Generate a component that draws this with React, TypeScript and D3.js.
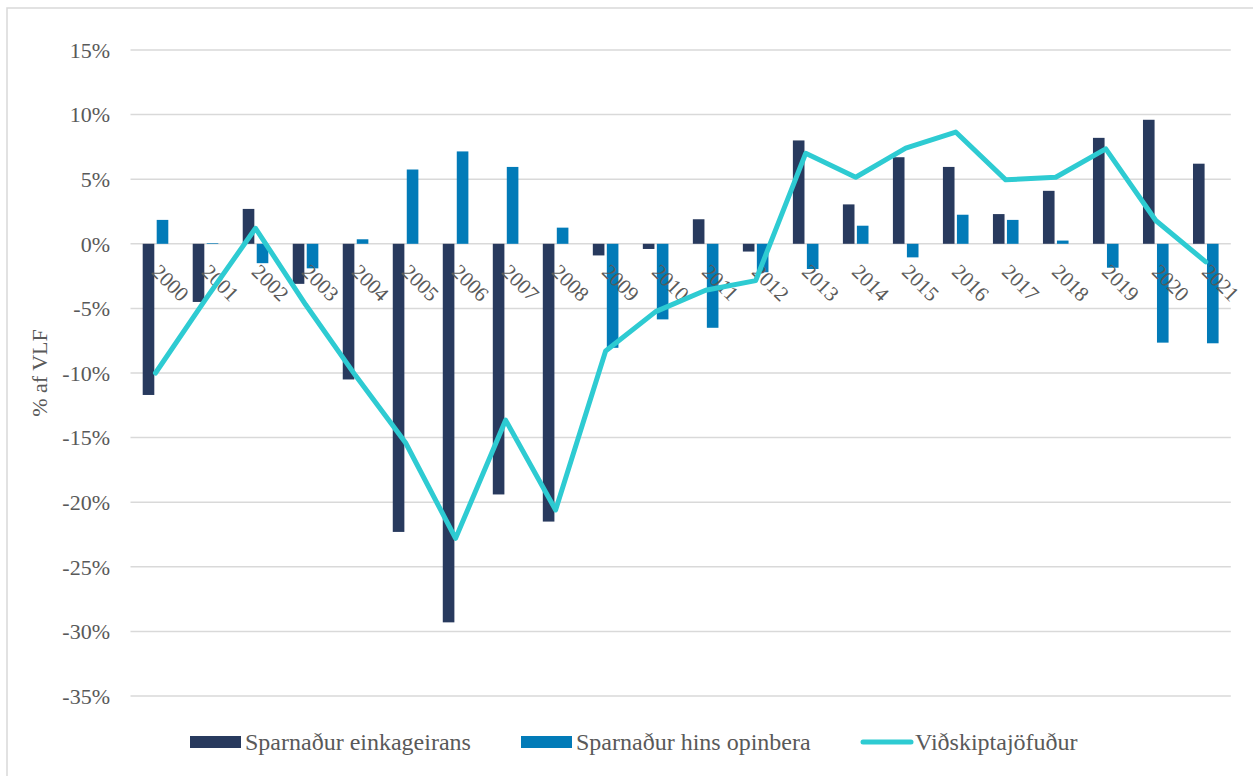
import { useEffect, useRef } from 'react'
import * as d3 from 'd3'

const years = [
  '2000', '2001', '2002', '2003', '2004', '2005', '2006', '2007', '2008', '2009', '2010',
  '2011', '2012', '2013', '2014', '2015', '2016', '2017', '2018', '2019', '2020', '2021',
]

// Sparnaður einkageirans (% af VLF)
const privateSaving = [
  -11.7, -4.5, 2.7, -3.1, -10.5, -22.3, -29.3, -19.4, -21.5, -0.9, -0.4,
  1.9, -0.6, 8.0, 3.05, 6.7, 5.95, 2.3, 4.1, 8.2, 9.6, 6.2,
]

// Sparnaður hins opinbera
const publicSaving = [
  1.85, 0.05, -1.5, -1.9, 0.35, 5.75, 7.15, 5.95, 1.25, -8.05, -5.85,
  -6.5, -2.2, -1.95, 1.4, -1.05, 2.25, 1.85, 0.25, -1.85, -7.65, -7.7,
]

// Viðskiptajöfnuður
const currentAccount = [
  -10.0, -4.3, 1.2, -4.7, -10.2, -15.4, -22.8, -13.65, -20.6, -8.3, -5.25,
  -3.6, -2.85, 7.0, 5.15, 7.4, 8.65, 4.95, 5.15, 7.35, 1.8, -1.4,
]

const yTicks = [15, 10, 5, 0, -5, -10, -15, -20, -25, -30, -35]

const seriesNames = ['Sparnaður einkageirans', 'Sparnaður hins opinbera', 'Viðskiptajöfuður']

const W = 1253
const H = 776
const DARK = '#283a5e'
const BLUE = '#027bb8'
const TEAL = '#2ecbd2'
const GRID = '#d9d9d9'
const TEXT = '#595959'
const FONT = '"Liberation Serif", "DejaVu Serif", serif'

export default function App() {
  const svgRef = useRef<SVGSVGElement | null>(null)

  useEffect(() => {
    const svgEl = svgRef.current
    if (!svgEl) return
    const svg = d3.select(svgEl)
    svg.selectAll('*').remove()

    const left = 130.5
    const right = 1230.8

    const x = d3.scaleBand<string>().domain(years).range([left, right]).padding(0)
    const inner = d3
      .scaleBand<string>()
      .domain(['priv', 'pub'])
      .range([12.2, 37.8])
      .paddingInner(0.171)
      .paddingOuter(0)
    const y = d3.scaleLinear().domain([-35, 15]).range([696, 50])

    // chart frame
    svg
      .append('rect')
      .attr('x', 7)
      .attr('y', 8)
      .attr('width', W + 20)
      .attr('height', H + 20)
      .attr('fill', '#fff')
      .attr('stroke', GRID)
      .attr('stroke-width', 1.5)

    // gridlines
    svg
      .append('g')
      .selectAll('line')
      .data(yTicks)
      .enter()
      .append('line')
      .attr('x1', left)
      .attr('x2', right)
      .attr('y1', (d) => y(d))
      .attr('y2', (d) => y(d))
      .attr('stroke', GRID)
      .attr('stroke-width', 1.5)

    // y tick labels
    svg
      .append('g')
      .selectAll('text')
      .data(yTicks)
      .enter()
      .append('text')
      .attr('x', 110)
      .attr('y', (d) => y(d))
      .attr('dy', '0.35em')
      .attr('text-anchor', 'end')
      .attr('font-family', FONT)
      .attr('font-size', 22)
      .attr('fill', TEXT)
      .text((d) => `${d}%`)

    // y axis title
    svg
      .append('text')
      .attr('transform', `translate(47, ${(y(15) + y(-35)) / 2}) rotate(-90)`)
      .attr('text-anchor', 'middle')
      .attr('font-family', FONT)
      .attr('font-size', 22)
      .attr('fill', TEXT)
      .text('% af VLF')

    // bars
    const bars = svg.append('g')
    bars
      .selectAll('rect.priv')
      .data(years)
      .enter()
      .append('rect')
      .attr('class', 'priv')
      .attr('x', (d) => (x(d) ?? 0) + (inner('priv') ?? 0))
      .attr('width', inner.bandwidth())
      .attr('y', (_, i) => y(Math.max(0, privateSaving[i])))
      .attr('height', (_, i) => Math.abs(y(privateSaving[i]) - y(0)))
      .attr('fill', DARK)
    bars
      .selectAll('rect.pub')
      .data(years)
      .enter()
      .append('rect')
      .attr('class', 'pub')
      .attr('x', (d) => (x(d) ?? 0) + (inner('pub') ?? 0))
      .attr('width', inner.bandwidth())
      .attr('y', (_, i) => y(Math.max(0, publicSaving[i])))
      .attr('height', (_, i) => Math.abs(y(publicSaving[i]) - y(0)))
      .attr('fill', BLUE)

    // x labels, rotated
    svg
      .append('g')
      .selectAll('text')
      .data(years)
      .enter()
      .append('text')
      .attr('transform', (d) => `translate(${(x(d) ?? 0) + x.bandwidth() / 2 - 5}, 273) rotate(45)`)
      .attr('font-family', FONT)
      .attr('font-size', 21)
      .attr('fill', TEXT)
      .text((d) => d)

    // line
    const line = d3
      .line<number>()
      .x((_, i) => (x(years[i]) ?? 0) + x.bandwidth() / 2)
      .y((d) => y(d))
    svg
      .append('path')
      .attr('d', line(currentAccount) ?? '')
      .attr('fill', 'none')
      .attr('stroke', TEAL)
      .attr('stroke-width', 5)
      .attr('stroke-linejoin', 'round')
      .attr('stroke-linecap', 'round')

    // legend
    const ly = 742
    const legend = svg.append('g')
    const items = [
      { name: seriesNames[0], x: 190, kind: 'bar', color: DARK },
      { name: seriesNames[1], x: 521, kind: 'bar', color: BLUE },
      { name: seriesNames[2], x: 860, kind: 'line', color: TEAL },
    ]
    items.forEach((it) => {
      if (it.kind === 'bar') {
        legend
          .append('rect')
          .attr('x', it.x)
          .attr('y', ly - 6)
          .attr('width', 51)
          .attr('height', 12)
          .attr('fill', it.color)
      } else {
        legend
          .append('line')
          .attr('x1', it.x + 3)
          .attr('x2', it.x + 51)
          .attr('y1', ly)
          .attr('y2', ly)
          .attr('stroke', it.color)
          .attr('stroke-width', 5)
          .attr('stroke-linecap', 'round')
      }
      legend
        .append('text')
        .attr('x', it.x + 55)
        .attr('y', ly)
        .attr('dy', '0.35em')
        .attr('font-family', FONT)
        .attr('font-size', 24)
        .attr('fill', TEXT)
        .text(it.name)
    })
  }, [])

  return (
    <svg
      ref={svgRef}
      width={W}
      height={H}
      style={{ position: 'absolute', left: 0, top: 0, background: '#fff' }}
    />
  )
}
